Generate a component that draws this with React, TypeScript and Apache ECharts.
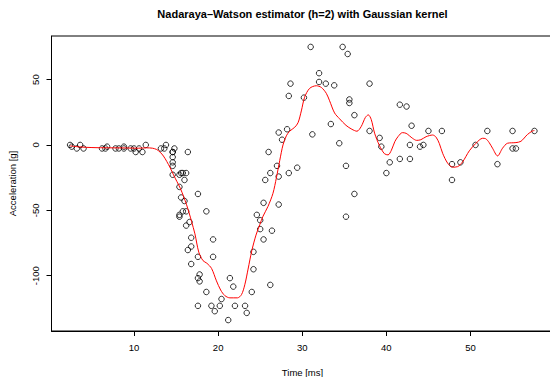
import React, { useEffect, useRef } from "react";
import * as echarts from "echarts";

// mcycle observations
const times = [
  2.4, 2.6, 3.2, 3.6, 4.0, 6.2, 6.6, 6.8, 7.8, 8.2,
  8.8, 8.8, 9.6, 10.0, 10.2, 10.6, 11.0, 11.4, 13.2, 13.6,
  13.8, 14.6, 14.6, 14.6, 14.6, 14.6, 14.6, 14.8, 15.4, 15.4,
  15.4, 15.4, 15.6, 15.6, 15.8, 15.8, 16.0, 16.0, 16.2, 16.2,
  16.2, 16.4, 16.4, 16.6, 16.8, 16.8, 16.8, 17.6, 17.6, 17.6,
  17.6, 17.8, 17.8, 18.6, 18.6, 19.2, 19.4, 19.4, 19.6, 20.2,
  20.4, 21.2, 21.4, 21.8, 22.0, 23.2, 23.4, 24.0, 24.2, 24.2,
  24.6, 25.0, 25.0, 25.4, 25.4, 25.6, 26.0, 26.2, 26.2, 26.4,
  27.0, 27.2, 27.2, 27.2, 27.6, 28.2, 28.4, 28.4, 28.6, 29.4,
  30.2, 31.0, 31.2, 32.0, 32.0, 32.8, 33.4, 33.8, 34.4, 34.8,
  35.2, 35.2, 35.4, 35.6, 35.6, 36.2, 36.2, 38.0, 38.0, 39.2,
  39.4, 40.0, 40.4, 41.6, 41.6, 42.4, 42.8, 42.8, 43.0, 44.0,
  44.4, 45.0, 46.6, 47.8, 47.8, 48.8, 50.6, 52.0, 53.2, 55.0,
  55.0, 55.4, 57.6,
];
const accel = [
  0.0, -1.3, -2.7, 0.0, -2.7, -2.7, -2.7, -1.3, -2.7, -2.7,
  -1.3, -2.7, -2.7, -2.7, -5.4, -2.7, -5.4, 0.0, -2.7, -2.7,
  0.0, -13.3, -5.4, -5.4, -9.3, -16.0, -22.8, -2.7, -22.8, -32.1,
  -53.5, -54.9, -40.2, -21.5, -21.5, -50.8, -42.9, -26.8, -21.5, -50.8,
  -61.7, -5.4, -80.4, -59.0, -71.0, -91.1, -77.7, -37.5, -85.6, -123.1,
  -101.9, -99.1, -104.4, -112.5, -50.8, -123.1, -85.6, -72.3, -127.2, -123.1,
  -117.9, -134.0, -101.9, -108.4, -123.1, -123.1, -128.5, -112.5, -95.1, -81.8,
  -53.5, -64.4, -57.6, -72.3, -44.3, -26.8, -5.4, -107.1, -21.5, -65.6,
  -16.0, -45.6, -24.2, 9.5, 4.0, 12.0, -21.5, 37.5, 46.9, -17.4,
  36.2, 75.0, 8.1, 54.9, 48.2, 46.9, 16.0, 45.6, 1.3, 75.0,
  -16.0, -54.9, 69.6, 34.8, 32.1, -37.5, 22.8, 46.9, 10.7, 5.4,
  -1.3, -21.5, -13.3, 30.8, -10.7, 29.4, 0.0, -10.7, 14.7, -1.3,
  0.0, 10.7, 10.7, -26.8, -14.7, -13.3, 0.0, 10.7, -14.7, -2.7,
  10.7, -2.7, 10.7,
];

// Nadaraya-Watson curve
const smoothTime = [
  2.4, 3.5, 5, 7, 9, 10.5, 11.5, 12.2, 12.7, 13.1,
  13.5, 13.9, 14.3, 14.7, 15.1, 15.5, 15.9, 16.25, 16.55, 16.84,
  17.24, 17.7, 18.2, 18.66, 19.22, 19.8, 20.3, 20.8, 21.4, 22.3,
  22.78, 23.17, 23.56, 24.0, 24.5, 24.95, 25.34, 25.93, 26.52, 26.93,
  27.32, 27.71, 28.11, 28.5, 29.1, 29.5, 29.89, 30.28, 30.88, 31.67,
  32.27, 32.86, 33.25, 33.84, 34.44, 35.2, 35.9, 36.5, 37.0, 37.5,
  37.85, 38.2, 38.6, 39.18, 39.77, 40.2, 40.6, 41.0, 41.4, 41.9,
  42.35, 43.13, 43.6, 44.1, 44.72, 45.5, 45.9, 46.3, 46.69, 47.29,
  47.88, 48.47, 49.06, 49.86, 50.65, 51.44, 51.8, 52.2, 52.62, 53.22,
  53.81, 54.4, 55.4, 56.0, 56.77, 57.37, 57.6,
];
const smoothAccel = [
  -0.7, -1.5, -2.0, -2.2, -2.3, -2.5, -2.2, -2.5, -3.5, -5.5,
  -8.5, -12.7, -17.5, -22.9, -28, -33.1, -39.5, -45.8, -52, -58.5,
  -68, -82, -88.5, -90.5, -94.5, -104, -111, -115.3, -117, -117,
  -114.5, -107, -95, -81, -69, -61, -54.5, -47, -37, -25,
  -12, 0, 7, 10.5, 13.5, 17, 26, 36.5, 43.3, 45.3,
  44, 39.5, 33.8, 24.5, 20, 15, 12, 10.5, 14, 21,
  23, 19.5, 9, -0.5, -6.7, -7.6, -4, 2.5, 6.5, 9.4,
  8.9, 5, 3.5, 4, 6.3, 7.6, 6, 1, -6.4, -14,
  -17, -16.6, -13, -4.5, 1.3, 5.1, 4.8, 2, -2.5, -8.4,
  -2.5, 1.3, 1.8, 2.8, 8, 10.7, 11,
];

const xTicks = [10, 20, 30, 40, 50];
const yTicks = [-100, -50, 0, 50];

const titleText = "Nadaraya\u2013Watson estimator (h=2) with Gaussian kernel";
const xName = "Time [ms]";
const yName = "Acceleration [g]";

const FONT = "'Liberation Sans', Arial, Helvetica, sans-serif";

export default function App() {
  const ref = useRef<HTMLDivElement>(null);
  useEffect(() => {
    if (!ref.current) return;
    const chart = echarts.init(ref.current, null, { renderer: "svg" });
    const points = times.map((t, i) => [t, accel[i]]);
    const curve = smoothTime.map((t, i) => [t, smoothAccel[i]]);
    chart.setOption({
      animation: false,
      backgroundColor: "#fff",
      textStyle: { fontFamily: FONT },
      grid: {
        left: 51.5,
        right: 3,
        top: 36,
        bottom: 46,
        show: true,
        borderColor: "#000",
        borderWidth: 1,
      },
      xAxis: {
        type: "value",
        min: 0.192,
        max: 59.808,
        splitLine: { show: false },
        axisLine: { show: true, onZero: false, lineStyle: { color: "#000", width: 1 } },
        axisTick: {
          show: true,
          inside: false,
          length: 5,
          customValues: xTicks,
          lineStyle: { color: "#000" },
        },
        axisLabel: {
          customValues: xTicks,
          margin: 11,
          fontSize: 9.5,
          color: "#000",
          fontFamily: FONT,
        },
      },
      yAxis: {
        type: "value",
        min: -142.36,
        max: 83.36,
        splitLine: { show: false },
        axisLine: { show: true, onZero: false, lineStyle: { color: "#000", width: 1 } },
        axisTick: {
          show: true,
          inside: false,
          length: 5,
          customValues: yTicks,
          lineStyle: { color: "#000" },
        },
        axisLabel: {
          customValues: yTicks,
          rotate: 90,
          margin: 11,
          fontSize: 9.5,
          color: "#000",
          fontFamily: FONT,
        },
      },
      graphic: [
        {
          type: "text",
          x: 302.5,
          y: 13.5,
          style: {
            text: titleText,
            fontSize: 11,
            fontWeight: "bold",
            fontFamily: FONT,
            fill: "#000",
            align: "center",
            verticalAlign: "middle",
          },
        },
        {
          type: "text",
          x: 302.5,
          y: 372,
          style: {
            text: xName,
            fontSize: 9.5,
            fontFamily: FONT,
            fill: "#000",
            align: "center",
            verticalAlign: "middle",
          },
        },
        {
          type: "text",
          x: 12,
          y: 183.5,
          rotation: Math.PI / 2,
          style: {
            text: yName,
            fontSize: 9.5,
            fontFamily: FONT,
            fill: "#000",
            align: "center",
            verticalAlign: "middle",
          },
        },
      ],
      series: [
        {
          type: "scatter",
          data: points,
          symbol: "circle",
          symbolSize: 5.5,
          itemStyle: { color: "rgba(0,0,0,0)", borderColor: "#000", borderWidth: 1 },
          z: 2,
        },
        {
          type: "line",
          data: curve,
          showSymbol: false,
          symbol: "none",
          smooth: 0.3,
          lineStyle: { color: "#ff0000", width: 1 },
          z: 3,
        },
      ],
    });
    return () => chart.dispose();
  }, []);
  return (
    <div
      style={{
        position: "absolute",
        left: 0,
        top: 0,
        width: 550,
        height: 377,
        overflow: "hidden",
        background: "#fff",
      }}
    >
      <div ref={ref} style={{ width: 556, height: 377 }} />
    </div>
  );
}
